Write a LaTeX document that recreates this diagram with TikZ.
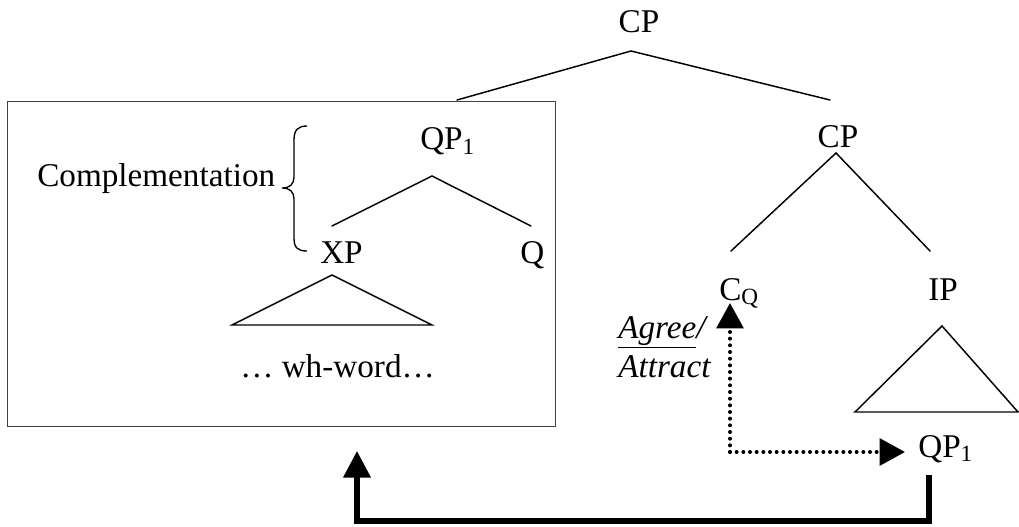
\documentclass[tikz,border=0pt]{standalone}
\usepackage{fontspec}
\setmainfont{Liberation Serif}
\usetikzlibrary{arrows.meta}
\begin{document}
\begin{tikzpicture}[x=0.75pt,y=-0.75pt,
  lbl/.style={inner sep=0pt, font=\fontsize{24.9}{30}\selectfont},
  branch/.style={line width=1.1pt, line cap=round},
  boxline/.style={draw=black!75, line width=1.1pt},
  bracestyle/.style={line width=1pt},
  dotarrow/.style={line width=3pt, line cap=round, dash pattern=on 0pt off 5pt, -{Triangle[length=19pt,width=20pt]}},
  movearrow/.style={line width=3.8pt, line join=miter, -{Triangle[length=20pt,width=20pt]}}]
\useasboundingbox (0,0) rectangle (1019,527);

% labels
\node[lbl, anchor=base] (cptop) at (639,33) {CP};
\node[lbl, anchor=base] (cpright) at (838,148) {CP};
\node[lbl, anchor=base west] (qpbox) at (420,150) {QP\textsubscript{1}};
\node[lbl, anchor=base west] (xp) at (320,263) {XP};
\node[lbl, anchor=base west] (q) at (520,263) {Q};
\node[lbl, anchor=base west] (cq) at (719,300) {C\textsubscript{Q}};
\node[lbl, anchor=base west] (ip) at (928,300) {IP};
\node[lbl, anchor=base west] (qpright) at (918,457) {QP\textsubscript{1}};
\node[lbl, anchor=base west] (compl) at (37,187) {Complementation};
\node[lbl, anchor=base west] (wh) at (240,377) {… wh-word…};
\node[lbl, anchor=base west, font=\fontsize{24.9}{30}\selectfont\itshape] (agree) at (618,338) {\underline{Agree}/};
\node[lbl, anchor=base west, font=\fontsize{24.9}{30}\selectfont\itshape] (attract) at (618,377) {Attract};

% box
\node[boxline, inner sep=0pt, minimum width=411pt, minimum height=243.75pt, anchor=north west] (box) at (7,101) {};

% branch points
\coordinate (a1) at (631,51);
\coordinate (a1l) at (457,100);
\coordinate (a1r) at (830,100);
\coordinate (a2) at (836,153);
\coordinate (a2l) at (731,251);
\coordinate (a2r) at (930,251);
\coordinate (a3) at (432,176);
\coordinate (a3l) at (332,226);
\coordinate (a3r) at (531,226);

\draw[branch] (a1l) -- (a1) -- (a1r);
\draw[branch] (a2l) -- (a2) -- (a2r);
\draw[branch] (a3l) -- (a3) -- (a3r);

% triangles
\coordinate (t1) at (332,275);
\coordinate (t1l) at (232,325);
\coordinate (t1r) at (432,325);
\draw[branch, line join=miter] (t1l) -- (t1) -- (t1r) -- cycle;
\coordinate (t2) at (942,326);
\coordinate (t2l) at (855,412);
\coordinate (t2r) at (1018,412);
\draw[branch, line join=miter] (t2l) -- (t2) -- (t2r) -- cycle;

% brace
\draw[bracestyle] (307,126) .. controls (298,126) and (294,130) .. (294,140)
  -- (294,177) .. controls (294,184) and (290,188) .. (282,188)
  .. controls (290,188) and (294,192) .. (294,199)
  -- (294,238) .. controls (294,248) and (298,251) .. (307,251);

% agree / attract arrows
\coordinate (corner) at (730,452);
\coordinate (cqtip) at (730,303);
\coordinate (qptip) at (905,452);
\draw[dotarrow] (corner) -- (cqtip);
\draw[dotarrow] (corner) -- (qptip);

% movement arrow
\coordinate (mvstart) at (929,475);
\coordinate (mvbottom) at (929,521);
\coordinate (mvtip) at (357,451);
\draw[movearrow] (mvstart) -- (mvbottom) -| (mvtip);
\end{tikzpicture}
\end{document}
